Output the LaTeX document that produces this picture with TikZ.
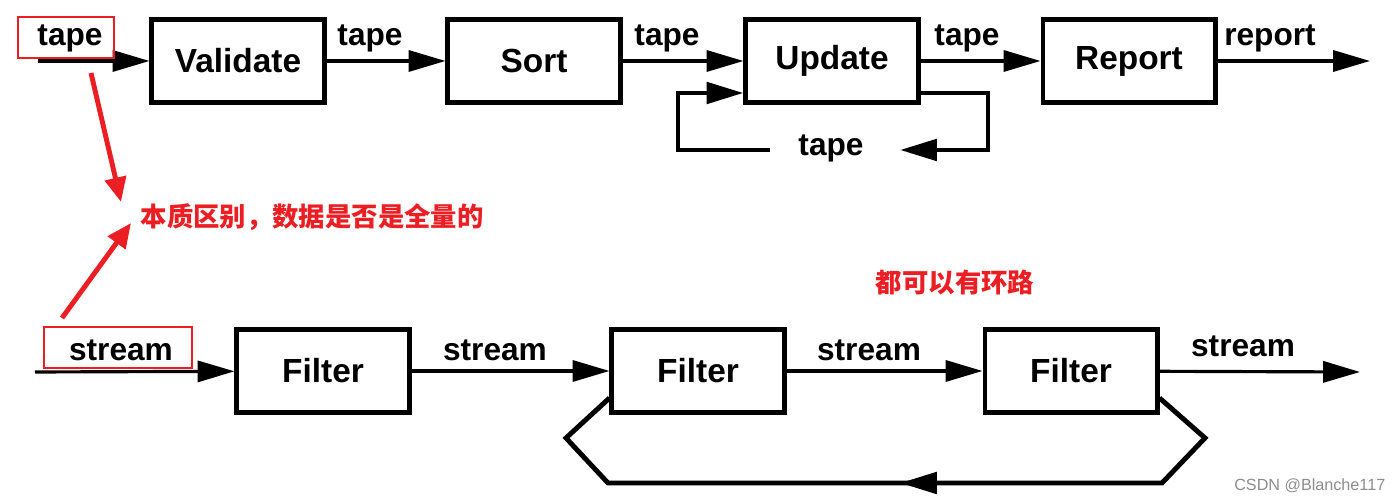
\documentclass[tikz,border=0pt]{standalone}
\usepackage{fontspec}
\setmainfont{Liberation Sans}
\newfontfamily\cjk{Noto Sans CJK SC}
\usetikzlibrary{arrows.meta}
\definecolor{mkred}{RGB}{235,30,36}

\begin{document}
\begin{tikzpicture}
[x=0.01cm,y=-0.01cm,
box/.style={draw,line width=1.4pt,minimum width=1.72cm,minimum height=0.83cm,inner sep=0pt,font=\bfseries\fontsize{9.5}{11}\selectfont},
flow/.style={line width=0.9pt,-{Triangle[length=10.5pt,width=6pt]}},
loopline/.style={line width=1.4pt},
tag/.style={inner sep=0pt,font=\bfseries\fontsize{9}{11}\selectfont},
redbox/.style={draw=mkred,line width=0.6pt},
redarrow/.style={mkred,line width=1.4pt,-{Triangle[length=7pt,width=6pt]}},
note/.style={mkred,inner sep=0pt,font=\cjk\bfseries\fontsize{7.5}{9}\selectfont}]

\useasboundingbox (0,0) rectangle (1400,501);

%draw the batch boxes
\node[box] (val) at (238,61) {Validate};
\node[box] (sort) at (534,61) {Sort};
\node[box] (upd) at (832,61) {Update};
\node[box] (rep) at (1129,61) {Report};

%draw the stream boxes
\node[box] (f1) at (323,371) {Filter};
\node[box] (f2) at (698,371) {Filter};
\node[box] (f3) at (1071,371) {Filter};

%free ends
\coordinate (tin) at (38,61);
\coordinate (tout) at (1370,61);
\coordinate (sin) at (35,372);
\coordinate (sout) at (1360,372);

%draw the batch flow
\draw[flow] (tin) -- (val);
\draw[flow] (val) -- (sort);
\draw[flow] (sort) -- (upd);
\draw[flow] (upd) -- (rep);
\draw[flow] (rep) -- (tout);
\node[tag] (t1) at (70,38) {tape};
\node[tag] (t2) at (370,38) {tape};
\node[tag] (t3) at (667,38) {tape};
\node[tag] (t4) at (967,38) {tape};
\node[tag] (t5) at (1270,38) {report};

%draw the update loop
\node[tag] (t6) at (831,148) {tape};
\coordinate (ur) at (988,93);
\coordinate (urt) at (900,150);
\coordinate (ul) at (770,150);
\draw[loopline,-{Triangle[length=10.5pt,width=6pt]}] (upd.east |- ur) -- (ur) |- (urt);
\draw[loopline,-{Triangle[length=10.5pt,width=6pt]}] (ul) -- (678,150) |- (upd.west |- ur);

%draw the stream flow
\draw[flow] (sin) -- (f1);
\draw[flow] (f1) -- (f2);
\draw[flow] (f2) -- (f3);
\draw[flow] (f3) -- (sout);
\node[tag] (s1) at (121,350) {stream};
\node[tag] (s2) at (495,350) {stream};
\node[tag] (s3) at (869,350) {stream};
\node[tag] (s4) at (1243,346) {stream};

%draw the filter loop
\coordinate (lv) at (566,438);
\coordinate (rv) at (1205,438);
\coordinate (bl) at (608,483);
\coordinate (br) at (1162,483);
\draw[loopline] (f2.west |- 0,398) -- (lv) -- (bl) -- (br) -- (rv) -- (f3.east |- 0,398);
\draw[loopline,-{Triangle[length=10.5pt,width=6pt]}] (br) -- (900,483);

%draw the marks
\draw[redbox] (18,17) rectangle (114,58);
\draw[redbox] (44,327) rectangle (192,368);
\node[note,anchor=west] (diff) at (140,217) {本质区别，数据是否是全量的};
\node[note] (cyc) at (955,283) {都可以有环路};
\coordinate (a1) at (91,73);
\coordinate (a2) at (121,202);
\coordinate (b1) at (62,318);
\coordinate (b2) at (131,223);
\draw[redarrow] (a1) -- (a2);
\draw[redarrow] (b1) -- (b2);

\node[anchor=east,text=black!45,inner sep=0pt,font=\fontsize{4.6}{6}\selectfont] (wm) at (1386,486) {CSDN @Blanche117};

\end{tikzpicture}
\end{document}
